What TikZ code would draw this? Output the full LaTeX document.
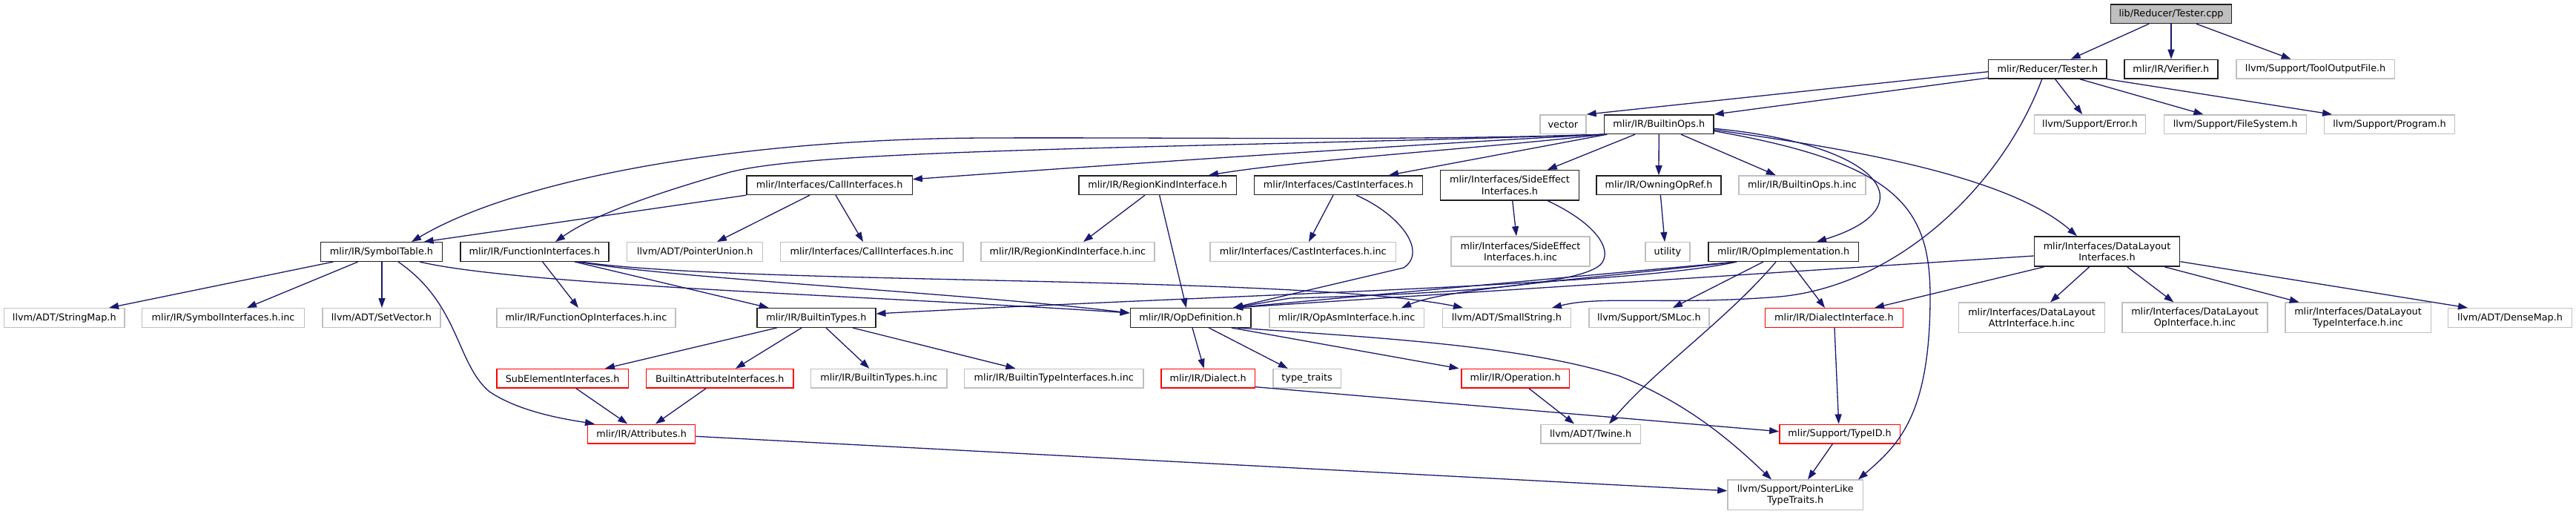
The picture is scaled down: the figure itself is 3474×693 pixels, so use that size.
\documentclass[tikz,border=0pt]{standalone}
\usepackage{fontspec}
\setmainfont{DejaVu Sans}
\usetikzlibrary{arrows.meta}
\definecolor{edgec}{HTML}{191970}
\definecolor{lgray}{HTML}{BFBFBF}
\definecolor{dgray}{HTML}{202020}
\tikzset{
  nb/.style={draw, rectangle, inner sep=0pt, line width=1.4pt, font=\fontsize{12.8}{15.3}\selectfont, align=center},
  blk/.style={nb, draw=dgray},
  gry/.style={nb, draw=lgray},
  rd/.style={nb, draw=red},
  rootbox/.style={nb, draw=dgray, fill=lgray},
  s1/.style={minimum height=25.6pt},
  s2/.style={minimum height=40.3pt},
  e/.style={draw=edgec, line width=1.3pt, -{Triangle[length=13pt,width=9pt]}},
}
\begin{document}
\begin{tikzpicture}[x=1pt,y=-1pt]
\useasboundingbox[fill=white] (0,0) rectangle (3474,693);
% row 0
\node[rootbox,s1,minimum width=163pt] (cpp) at (2928,18.7) {lib/Reducer/Tester.cpp};
% row 1
\node[blk,s1,minimum width=159.3pt] (testerh) at (2761.4,93.2) {mlir/Reducer/Tester.h};
\node[blk,s1,minimum width=126pt] (verifier) at (2927.8,93.2) {mlir/IR/Verifier.h};
\node[gry,s1,minimum width=213.6pt] (tooloutput) at (3122.6,93.2) {llvm/Support/ToolOutputFile.h};
% row 2
\node[gry,s1,minimum width=62.2pt] (vector) at (2107.9,167.7) {vector};
\node[blk,s1,minimum width=147.6pt] (builtinops) at (2237.2,167.7) {mlir/IR/BuiltinOps.h};
\node[gry,s1,minimum width=150.4pt] (error) at (2818.5,167.7) {llvm/Support/Error.h};
\node[gry,s1,minimum width=192pt] (filesystem) at (3014.6,167.7) {llvm/Support/FileSystem.h};
\node[gry,s1,minimum width=175.9pt] (program) at (3222.5,167.7) {llvm/Support/Program.h};
% row 3
\node[blk,s1,minimum width=223.2pt] (callif) at (1118.6,249.7) {mlir/Interfaces/CallInterfaces.h};
\node[blk,s1,minimum width=212.5pt] (regionkind) at (1561.2,249.7) {mlir/IR/RegionKindInterface.h};
\node[blk,s1,minimum width=227.4pt] (castif) at (1805,249.7) {mlir/Interfaces/CastInterfaces.h};
\node[blk,s2,minimum width=187.1pt] (sideeffect) at (2036,249.8) {mlir/Interfaces/SideEffect\\Interfaces.h};
\node[blk,s1,minimum width=168.1pt] (owning) at (2237,249.7) {mlir/IR/OwningOpRef.h};
\node[gry,s1,minimum width=170.9pt] (builtinopsinc) at (2430.4,249.7) {mlir/IR/BuiltinOps.h.inc};
\node[blk,s2,minimum width=196.4pt] (datalayout) at (2841.5,339) {mlir/Interfaces/DataLayout\\Interfaces.h};
% row 4
\node[blk,s1,minimum width=164.3pt] (symtab) at (514.5,339.5) {mlir/IR/SymbolTable.h};
\node[blk,s1,minimum width=199.8pt] (funcif) at (720.9,339.5) {mlir/IR/FunctionInterfaces.h};
\node[gry,s1,minimum width=183pt] (ptrunion) at (937.2,339.5) {llvm/ADT/PointerUnion.h};
\node[gry,s1,minimum width=246.4pt] (callinc) at (1175.8,339.5) {mlir/Interfaces/CallInterfaces.h.inc};
\node[gry,s1,minimum width=234.2pt] (regioninc) at (1439.9,339.5) {mlir/IR/RegionKindInterface.h.inc};
\node[gry,s1,minimum width=250.7pt] (castinc) at (1757.3,339.5) {mlir/Interfaces/CastInterfaces.h.inc};
\node[gry,s2,minimum width=187pt] (sideinc) at (2050.5,339) {mlir/Interfaces/SideEffect\\Interfaces.h.inc};
\node[gry,s1,minimum width=59.9pt] (utility) at (2248.9,339.5) {utility};
\node[blk,s1,minimum width=202.6pt] (opimpl) at (2405.1,339.5) {mlir/IR/OpImplementation.h};
% row 5
\node[gry,s1,minimum width=162.6pt] (stringmap) at (86.8,428.5) {llvm/ADT/StringMap.h};
\node[gry,s1,minimum width=219.2pt] (symifinc) at (301.1,428.5) {mlir/IR/SymbolInterfaces.h.inc};
\node[gry,s1,minimum width=158.8pt] (setvector) at (514.4,428.5) {llvm/ADT/SetVector.h};
\node[gry,s1,minimum width=241.2pt] (funcopinc) at (790.4,428.5) {mlir/IR/FunctionOpInterfaces.h.inc};
\node[blk,s1,minimum width=159.8pt] (builtintypes) at (1100.9,428.5) {mlir/IR/BuiltinTypes.h};
\node[blk,s1,minimum width=162.6pt] (opdef) at (1605.6,428.5) {mlir/IR/OpDefinition.h};
\node[gry,s1,minimum width=208.6pt] (opasminc) at (1816.1,428.5) {mlir/IR/OpAsmInterface.h.inc};
\node[gry,s1,minimum width=173.2pt] (smallstring) at (2031.9,428.5) {llvm/ADT/SmallString.h};
\node[gry,s1,minimum width=162pt] (smloc) at (2223.9,428.5) {llvm/Support/SMLoc.h};
\node[rd,s1,minimum width=185.9pt] (dialectif) at (2473.4,428.5) {mlir/IR/DialectInterface.h};
\node[gry,s2,minimum width=196.5pt] (dlattr) at (2740,428.3) {mlir/Interfaces/DataLayout\\AttrInterface.h.inc};
\node[gry,s2,minimum width=196pt] (dlop) at (2960,428.3) {mlir/Interfaces/DataLayout\\OpInterface.h.inc};
\node[gry,s2,minimum width=196.4pt] (dltype) at (3180,428.3) {mlir/Interfaces/DataLayout\\TypeInterface.h.inc};
\node[gry,s1,minimum width=167pt] (densemap) at (3385.1,428.5) {llvm/ADT/DenseMap.h};
% row 6
\node[rd,s1,minimum width=177.6pt] (subelem) at (758.6,510.3) {SubElementInterfaces.h};
\node[rd,s1,minimum width=198.1pt] (battrif) at (970.8,510.3) {BuiltinAttributeInterfaces.h};
\node[gry,s1,minimum width=183.2pt] (btinc) at (1185.2,510.3) {mlir/IR/BuiltinTypes.h.inc};
\node[gry,s1,minimum width=241.4pt] (btifinc) at (1421.3,510.3) {mlir/IR/BuiltinTypeInterfaces.h.inc};
\node[rd,s1,minimum width=126.5pt] (dialect) at (1629.2,510.3) {mlir/IR/Dialect.h};
\node[gry,s1,minimum width=91.5pt] (typetraits) at (1762.6,510.3) {type\_traits};
\node[rd,s1,minimum width=145.3pt] (operation) at (2043.6,510.3) {mlir/IR/Operation.h};
% row 7
\node[rd,s1,minimum width=145.2pt] (attributes) at (865.1,585) {mlir/IR/Attributes.h};
\node[gry,s1,minimum width=134.3pt] (twine) at (2145.2,585) {llvm/ADT/Twine.h};
\node[rd,s1,minimum width=162.6pt] (typeid) at (2481.1,585) {mlir/Support/TypeID.h};
% row 8
\node[gry,s2,minimum width=182.6pt] (ptrlike) at (2421.2,667.3) {llvm/Support/PointerLike\\TypeTraits.h};

% ---- edges ----
\draw[e] (cpp.south -| 2898,0) -- (testerh.north -| 2792.7,0);
\draw[e] (cpp.south -| 2928,0) -- (verifier.north -| 2928,0);
\draw[e] (cpp.south -| 2962,0) -- (tooloutput.north -| 3089.6,0);

\draw[e] (testerh.west |- 0,96.7) -- (vector.north east);
\draw[e] (testerh.west |- 0,105) -- (builtinops.north east);
\draw[e] (testerh.south -| 2771.6,0) -- (error.north -| 2808.2,0);
\draw[e] (testerh.south -| 2804.9,0) -- (filesystem.north -| 2971.4,0);
\draw[e] (testerh.south east) -- (program.north -| 3145,0);
\draw[e] (testerh.south -| 2753.8,0) .. controls (2700,250) and (2560,385) .. (2400,400) .. controls (2250,412) and (2160,398) .. (smallstring.north -| 2093,0);

\draw[e] (builtinops.south west) .. controls (1900,190) and (1600,185) .. (1330,186) .. controls (1000,187) and (700,240) .. (symtab.north -| 555,0);
\draw[e] (builtinops.south west) .. controls (1600,200) and (1100,200) .. (981,233) .. controls (880,262) and (800,290) .. (funcif.north -| 749,0);
\draw[e] (builtinops.south west) .. controls (1900,195) and (1500,222) .. (callif.east |- 0,241.7);
\draw[e] (builtinops.south west) .. controls (2000,200) and (1760,215) .. (regionkind.north -| 1630,0);
\draw[e] (builtinops.south -| 2167.3,0) -- (castif.north -| 1873,0);
\draw[e] (builtinops.south -| 2205,0) -- (sideeffect.north -| 2086.8,0);
\draw[e] (builtinops.south) -- (owning.north);
\draw[e] (builtinops.south -| 2267,0) -- (builtinopsinc.north -| 2394.8,0);
\draw[e] (builtinops.east |- 0,173.3) .. controls (2540,195) and (2600,280) .. (opimpl.north -| 2450,0);
\draw[e] (builtinops.east |- 0,175) .. controls (2450,195) and (2700,230) .. (datalayout.north -| 2801,0);
\draw[e] (builtinops.east |- 0,176.7) .. controls (2560,220) and (2603,280) .. (2603,400) .. controls (2603,560) and (2560,600) .. (ptrlike.north -| 2506,0);

\draw[e] (callif.south -| 1092,0) -- (ptrunion.north -| 967,0);
\draw[e] (callif.south -| 1127,0) -- (callinc.north -| 1164,0);
\draw[e] (callif.south west) -- (symtab.north -| 571.6,0);

\draw[e] (regionkind.south -| 1544,0) -- (regioninc.north -| 1461,0);
\draw[e] (regionkind.south -| 1563.7,0) -- (opdef.north -| 1599.8,0);

\draw[e] (castif.south -| 1798,0) -- (castinc.north -| 1765,0);
\draw[e] (castif.south -| 1829,0) .. controls (1890,290) and (1925,340) .. (1893,361) -- (opdef.north -| 1663,0);

\draw[e] (sideeffect.south -| 2039.7,0) -- (sideinc.north -| 2045,0);
\draw[e] (sideeffect.south -| 2087,0) .. controls (2150,300) and (2175,335) .. (2160,355) .. controls (2140,380) and (2000,395) .. (1740,402) -- (opdef.north -| 1663,0);

\draw[e] (owning.south -| 2239.4,0) -- (utility.north -| 2245,0);

\draw[e] (opimpl.south -| 2378,0) -- (smloc.north -| 2256,0);
\draw[e] (opimpl.south -| 2395,0) .. controls (2330,430) and (2230,500) .. (twine.north -| 2170,0);
\draw[e] (opimpl.south -| 2414,0) -- (dialectif.north -| 2461,0);
\draw[e] (opimpl.south -| 2342,0) -- (opdef.north -| 1663,0);
\draw[e] (opimpl.south -| 2342,0) .. controls (2100,380) and (1950,390) .. (opasminc.north -| 1890,0);
\draw[e] (opimpl.south -| 2342,0) .. controls (2200,385) and (1700,395) .. (builtintypes.east |- 0,423);

\draw[e] (datalayout.west |- 0,345) -- (opdef.north -| 1663,0);
\draw[e] (datalayout.south -| 2756.6,0) -- (dialectif.north -| 2528,0);
\draw[e] (datalayout.south -| 2817.6,0) -- (dlattr.north -| 2765,0);
\draw[e] (datalayout.south -| 2868.7,0) -- (dlop.north -| 2931.4,0);
\draw[e] (datalayout.south -| 2919.2,0) -- (dltype.north -| 3100.7,0);
\draw[e] (datalayout.east |- 0,352.7) -- (densemap.north -| 3328,0);

\draw[e] (symtab.south -| 449.5,0) -- (stringmap.north -| 147,0);
\draw[e] (symtab.south -| 482.8,0) -- (symifinc.north -| 333,0);
\draw[e] (symtab.south -| 515,0) -- (setvector.north -| 515,0);
\draw[e] (symtab.south -| 537,0) .. controls (620,410) and (615,490) .. (660,528) .. controls (700,555) and (760,565) .. (attributes.north -| 802,0);
\draw[e] (symtab.south -| 566,0) .. controls (700,385) and (1200,400) .. (opdef.west |- 0,422);

\draw[e] (funcif.south -| 731.7,0) -- (funcopinc.north -| 780,0);
\draw[e] (funcif.south -| 775,0) -- (builtintypes.north -| 1036.7,0);
\draw[e] (funcif.south -| 780,0) .. controls (900,375) and (1300,395) .. (opdef.west |- 0,422);
\draw[e] (funcif.south -| 783,0) .. controls (1000,385) and (1750,370) .. (smallstring.north -| 1973,0);

\draw[e] (builtintypes.south -| 1047.6,0) -- (subelem.north -| 816,0);
\draw[e] (builtintypes.south -| 1081,0) -- (battrif.north -| 992,0);
\draw[e] (builtintypes.south -| 1114,0) -- (btinc.north -| 1172.4,0);
\draw[e] (builtintypes.south -| 1150,0) -- (btifinc.north -| 1369.4,0);

\draw[e] (opdef.south -| 1608,0) -- (dialect.north -| 1623.6,0);
\draw[e] (opdef.south -| 1630.3,0) -- (typetraits.north -| 1736.8,0);
\draw[e] (opdef.south -| 1660.8,0) -- (operation.north -| 1967.5,0);
\draw[e] (opdef.south -| 1669,0) .. controls (1850,455) and (2050,465) .. (2184,507) .. controls (2280,545) and (2340,600) .. (ptrlike.north -| 2389,0);

\draw[e] (dialect.east |- 0,521.7) -- (typeid.west |- 0,581.7);
\draw[e] (operation.south -| 2062,0) -- (twine.north -| 2123,0);
\draw[e] (dialectif.south -| 2474,0) -- (typeid.north -| 2479.7,0);
\draw[e] (typeid.south -| 2471.4,0) -- (ptrlike.north -| 2438,0);
\draw[e] (attributes.east |- 0,588.3) -- (ptrlike.west |- 0,661.7);
\draw[e] (subelem.south -| 777,0) -- (attributes.north -| 846.3,0);
\draw[e] (battrif.south -| 952,0) -- (attributes.north -| 883.9,0);
\end{tikzpicture}
\end{document}
